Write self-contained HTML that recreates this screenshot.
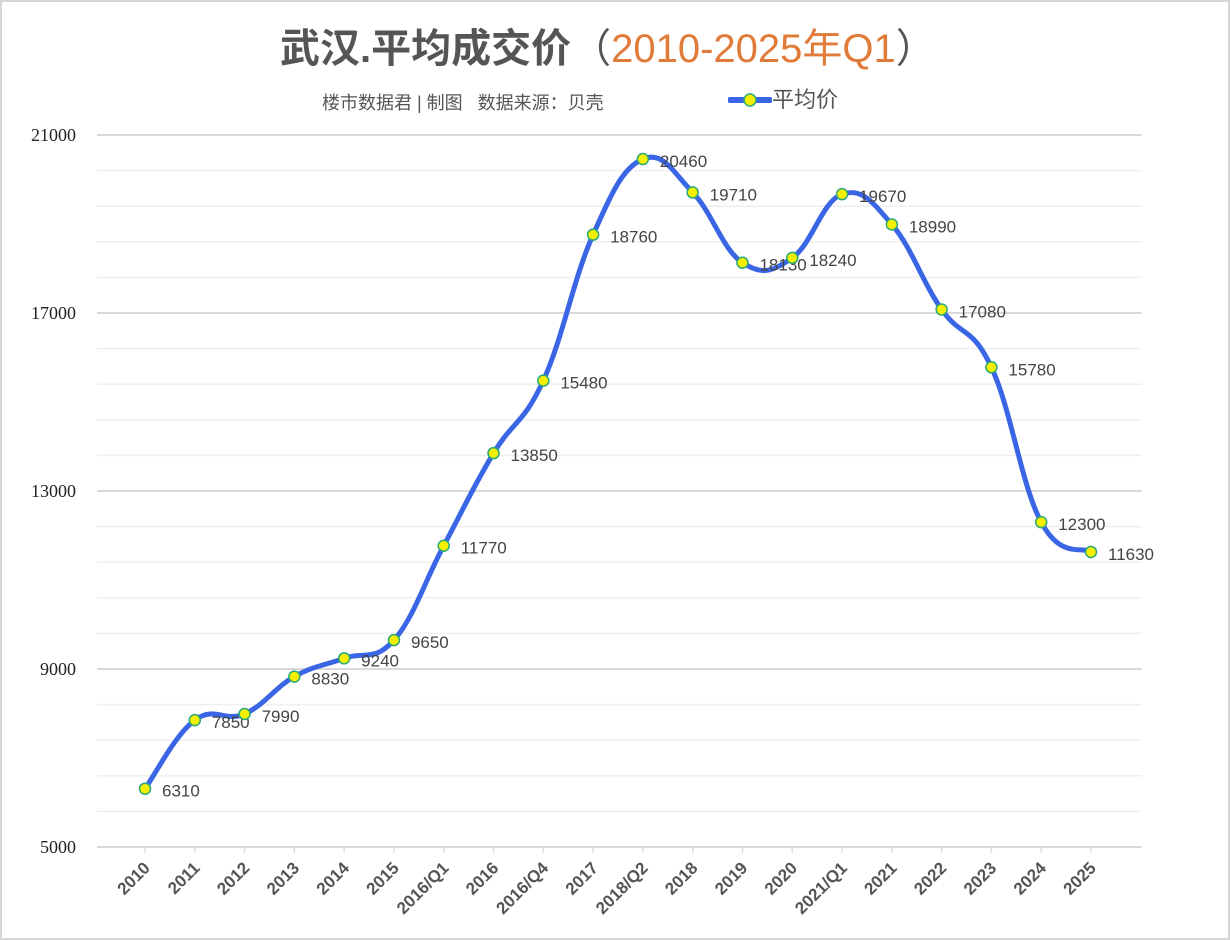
<!DOCTYPE html>
<html><head><meta charset="utf-8"><style>
body{margin:0;background:#fff;}
#wrap{position:relative;width:1226px;height:936px;border:2px solid #d6d6d6;background:#fff;overflow:hidden;}
.t{position:absolute;white-space:nowrap;font-family:"Liberation Sans","Noto Sans CJK SC",sans-serif;}
</style></head><body>
<div id="wrap">
<div class="t" style="left:278px;top:14px;font-size:40px;font-weight:bold;color:#555;">武汉.平均成交价<span style="font-weight:normal">（</span><span style="color:#e07b39;font-weight:normal">2010-2025年Q1</span><span style="font-weight:normal">）</span></div>
<div class="t" style="left:320px;top:87px;font-size:18px;color:#555;">楼市数据君 | 制图&nbsp;&nbsp;&nbsp;数据来源：贝壳</div>
<div class="t" style="left:726px;top:80px;font-size:22px;color:#555;"><svg width="44" height="20" style="vertical-align:-3px"><line x1="2" y1="10" x2="42" y2="10" stroke="#3a66e6" stroke-width="6" stroke-linecap="round"/><circle cx="22" cy="10" r="6" fill="#f5f000" stroke="#2aa87a" stroke-width="1.5"/></svg>平均价</div>
<svg id="chart" width="1226" height="936" style="position:absolute;left:0;top:0"></svg>
</div>
<script>
const categories=["2010","2011","2012","2013","2014","2015","2016/Q1","2016","2016/Q4","2017","2018/Q2","2018","2019","2020","2021/Q1","2021","2022","2023","2024","2025"];
const values=[6310,7850,7990,8830,9240,9650,11770,13850,15480,18760,20460,19710,18130,18240,19670,18990,17080,15780,12300,11630];
const yTicks=[5000,9000,13000,17000,21000];
const yMin=5000,yMax=21000,yMinor=800;
const NS="http://www.w3.org/2000/svg";
const svg=document.getElementById('chart');
const plotL=95,plotR=1140,y0=845,y1=133;
const x0=143,xStep=(1089-143)/19;
function X(i){return x0+i*xStep;}
function Y(v){return y0-(v-yMin)/(yMax-yMin)*(y0-y1);}
function mk(tag,attrs){const e=document.createElementNS(NS,tag);for(const k in attrs)e.setAttribute(k,attrs[k]);svg.appendChild(e);return e;}
for(let v=yMin;v<=yMax+0.1;v+=yMinor){
  const major=yTicks.includes(Math.round(v));
  const l=mk('line',{x1:plotL,x2:plotR,y1:Y(v),y2:Y(v),stroke:major?'#d9d9d9':'#efefef','stroke-width':major?2:1.5});
  
  
}
yTicks.forEach(v=>{
  const t=mk('text',{x:74,y:Y(v)+6,'text-anchor':'end','font-size':18,fill:'#222','font-family':'Liberation Serif, serif'});
  t.textContent=v;
  
  
});
categories.forEach((c,i)=>{
  const tk=mk('line',{x1:X(i),x2:X(i),y1:y0,y2:y0+6,stroke:'#ddd','stroke-width':1.5});
  
  
  const t=mk('text',{x:X(i)+6,y:y0+22,'text-anchor':'end','font-size':17,'font-weight':'bold',fill:'#555','font-family':'Liberation Sans, sans-serif',transform:`rotate(-45 ${X(i)+6} ${y0+22})`});
  t.textContent=c;
  
  
});
const pts=values.map((v,i)=>[X(i),Y(v)]);
let d=`M${pts[0][0]},${pts[0][1]}`;
for(let i=0;i<pts.length-1;i++){
  const p0=pts[Math.max(0,i-1)],p1=pts[i],p2=pts[i+1],p3=pts[Math.min(pts.length-1,i+2)];
  const k=0.2;
  const c1=[p1[0]+(p2[0]-p0[0])*k,p1[1]+(p2[1]-p0[1])*k];
  const c2=[p2[0]-(p3[0]-p1[0])*k,p2[1]-(p3[1]-p1[1])*k];
  d+=` C${c1[0]},${c1[1]} ${c2[0]},${c2[1]} ${p2[0]},${p2[1]}`;
}
const path=mk('path',{d:d,fill:'none',stroke:'#3a66e6','stroke-width':5,'stroke-linecap':'round'});


pts.forEach((p,i)=>{
  const c=mk('circle',{cx:p[0],cy:p[1],r:5.5,fill:'#f5f000',stroke:'#2aa87a','stroke-width':1.5});
  
  
  const t=mk('text',{x:p[0]+17,y:p[1]+8,'font-size':17,fill:'#444','font-family':'Liberation Sans, sans-serif'});
  t.textContent=values[i];
  
  
});
</script>
</body></html>
